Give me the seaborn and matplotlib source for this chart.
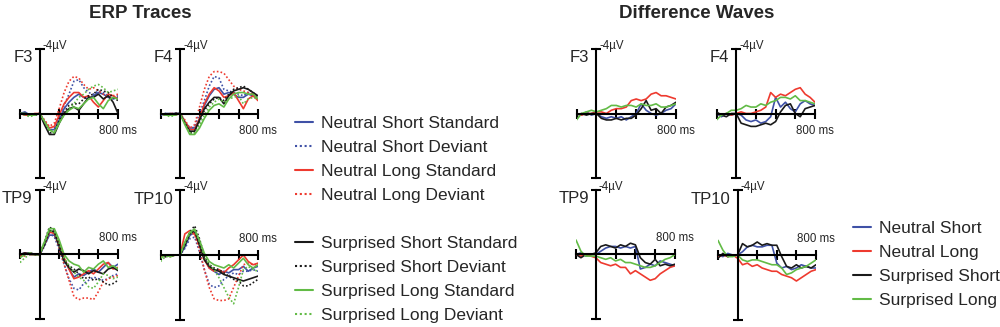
import numpy as np
import pandas as pd
import seaborn as sns
import matplotlib.pyplot as plt
from matplotlib.lines import Line2D

# time axis (ms) and amplitudes (µV, negative plotted up)
times = [-200, -150, -100, -50, 0, 50, 100, 150, 200, 250, 300,
         350, 400, 450, 500, 550, 600, 650, 700, 750, 800]

erp_labels = ['Neutral Short Standard', 'Neutral Short Deviant',
              'Neutral Long Standard', 'Neutral Long Deviant',
              'Surprised Short Standard', 'Surprised Short Deviant',
              'Surprised Long Standard', 'Surprised Long Deviant']
diff_labels = ['Neutral Short', 'Neutral Long', 'Surprised Short', 'Surprised Long']

# one row per condition, same order as erp_labels
erp_f3 = [
    [0.0, -0.1, 0.1, 0.1, 0.0, 0.5, 1.0, 1.0, 0.4, -0.3, -0.7, -1.0, -1.2, -1.0, -0.9, -1.1, -1.3, -1.2, -1.0, -0.9, -1.0],
    [0.0, 0.0, 0.1, 0.1, 0.0, 0.6, 1.1, 0.9, 0.2, -0.5, -1.2, -2.0, -2.1, -1.6, -1.3, -1.2, -1.4, -1.3, -1.1, -1.0, -1.1],
    [0.0, 0.1, 0.1, 0.0, 0.0, 0.5, 0.9, 0.8, 0.1, -0.6, -1.0, -1.3, -1.3, -1.0, -1.1, -0.7, -0.4, -0.8, -1.2, -1.1, -0.9],
    [0.0, 0.1, 0.0, 0.1, 0.0, 0.4, 0.8, 0.6, -0.3, -1.3, -2.0, -2.3, -2.2, -1.8, -1.5, -1.6, -1.4, -1.2, -1.0, -1.1, -1.2],
    [0.0, 0.0, 0.1, 0.1, 0.0, 0.7, 1.3, 1.3, 0.6, 0.0, -0.3, -0.4, -0.2, -0.6, -1.0, -1.0, -1.2, -0.9, -1.1, -0.7, 0.0],
    [0.0, 0.0, 0.1, 0.1, 0.0, 0.6, 1.2, 1.2, 0.4, -0.1, -0.5, -0.6, -0.6, -0.9, -1.1, -1.2, -1.5, -1.4, -1.3, -1.0, -0.8],
    [0.0, 0.0, 0.1, 0.1, 0.0, 0.5, 1.0, 1.2, 0.6, 0.1, -0.2, -0.4, -0.3, -0.6, -0.9, -1.0, -0.6, -0.3, -0.8, -1.0, -0.9],
    [0.0, 0.1, 0.2, 0.1, 0.0, 0.5, 1.1, 1.1, 0.5, 0.1, -0.3, -0.6, -1.0, -1.2, -1.5, -1.7, -1.8, -1.6, -1.3, -1.4, -1.5],
]
erp_f4 = [
    [0.1, 0.0, 0.0, 0.0, 0.0, 0.5, 0.9, 0.9, 0.4, -0.5, -1.1, -1.5, -1.6, -1.2, -1.3, -1.2, -1.0, -1.0, -1.2, -1.1, -0.9],
    [0.1, 0.0, 0.1, 0.0, 0.0, 0.6, 1.0, 0.8, 0.0, -0.8, -1.7, -2.3, -2.2, -1.5, -1.4, -1.3, -1.2, -1.1, -1.3, -1.2, -1.0],
    [0.0, 0.1, 0.0, 0.1, 0.0, 0.5, 1.0, 1.0, 0.3, -0.6, -1.2, -1.6, -1.4, -1.0, -1.1, -1.3, -0.8, -0.3, -0.9, -1.1, -0.8],
    [0.0, 0.1, 0.0, 0.0, 0.0, 0.4, 0.9, 0.7, -0.4, -1.5, -2.3, -2.6, -2.6, -2.5, -2.1, -1.7, -1.5, -1.4, -1.3, -1.2, -1.1],
    [0.0, 0.1, 0.1, 0.0, 0.0, 0.6, 1.1, 1.1, 0.4, -0.3, -0.7, -1.0, -1.0, -0.6, -1.1, -1.4, -1.5, -1.6, -1.5, -1.3, -1.1],
    [0.0, 0.1, 0.1, 0.0, 0.0, 0.6, 1.2, 1.2, 0.5, -0.2, -0.6, -0.9, -1.0, -0.8, -1.2, -1.5, -1.6, -1.7, -1.5, -1.3, -1.0],
    [0.0, 0.1, 0.1, 0.1, 0.0, 0.7, 1.3, 1.3, 0.9, 0.3, -0.2, -0.5, -0.6, -0.4, -0.9, -1.2, -1.3, -1.3, -1.2, -1.2, -0.9],
    [0.0, 0.1, 0.2, 0.1, 0.0, 0.6, 1.2, 1.2, 0.7, 0.1, -0.4, -0.7, -0.9, -0.7, -0.9, -1.0, -1.1, -0.6, -0.9, -1.0, -0.9],
]
erp_tp9 = [
    [0.0, -0.1, -0.1, 0.0, 0.0, -0.6, -1.2, -1.2, -0.6, 0.3, 0.9, 1.4, 1.2, 1.3, 1.1, 0.9, 1.1, 0.8, 0.5, 0.8, 0.6],
    [0.0, 0.0, -0.1, 0.0, 0.0, -0.5, -1.3, -1.1, -0.3, 0.6, 1.5, 2.1, 2.2, 1.8, 1.6, 1.4, 1.5, 1.6, 1.5, 1.3, 1.2],
    [0.1, -0.1, 0.0, 0.0, 0.0, -0.7, -1.4, -1.3, -0.7, 0.2, 0.9, 1.5, 1.4, 1.2, 1.0, 1.2, 0.9, 0.6, 0.5, 0.9, 0.8],
    [0.0, 0.1, -0.1, 0.0, 0.0, -0.6, -1.4, -1.3, -0.4, 0.6, 1.6, 2.6, 2.8, 2.7, 2.7, 2.8, 2.3, 1.7, 1.5, 1.4, 1.3],
    [0.0, -0.1, 0.0, 0.0, 0.0, -0.6, -1.5, -1.4, -0.5, 0.4, 0.8, 1.1, 0.9, 1.0, 1.2, 1.0, 1.1, 1.2, 0.9, 0.8, 1.0],
    [0.0, 0.0, -0.1, 0.0, 0.0, -0.8, -1.7, -1.5, -0.6, 0.3, 0.7, 0.9, 1.2, 1.5, 1.4, 1.6, 1.5, 1.7, 1.9, 1.8, 1.6],
    [0.2, 0.0, -0.1, 0.0, 0.0, -0.8, -1.6, -1.6, -0.9, 0.0, 0.4, 0.6, 0.7, 1.1, 0.8, 0.9, 0.6, 0.4, 0.8, 0.7, 0.9],
    [0.5, 0.2, 0.0, 0.0, 0.0, -0.7, -1.5, -1.4, -0.7, 0.2, 0.7, 1.1, 1.4, 1.6, 2.0, 2.1, 1.7, 1.2, 1.3, 1.5, 1.4],
]
erp_tp10 = [
    [0.0, 0.1, 0.0, 0.0, 0.0, -0.5, -1.2, -1.4, -0.8, 0.2, 0.8, 1.0, 1.2, 1.0, 1.1, 0.9, 0.9, 0.7, 1.0, 0.8, 0.7],
    [0.0, 0.0, 0.1, 0.0, 0.0, -0.4, -1.0, -1.1, -0.2, 0.9, 1.8, 2.0, 1.9, 1.5, 1.3, 1.1, 1.2, 1.0, 1.0, 0.9, 1.0],
    [0.1, 0.0, 0.1, 0.0, 0.0, -1.3, -1.5, -1.3, -0.6, 0.3, 0.8, 1.0, 0.9, 1.1, 0.8, 0.6, 0.3, 0.0, 0.4, 0.6, 0.5],
    [0.0, 0.1, 0.0, 0.0, 0.0, -0.7, -1.3, -1.3, -0.3, 0.9, 2.0, 2.7, 2.8, 2.8, 2.7, 2.0, 1.3, 0.6, 0.5, 0.6, 0.6],
    [0.0, 0.1, 0.0, 0.0, 0.0, -0.6, -1.3, -1.5, -0.6, 0.3, 0.7, 0.9, 1.0, 1.2, 1.3, 1.4, 1.5, 1.6, 1.5, 1.4, 1.3],
    [0.0, 0.0, 0.1, 0.0, 0.0, -0.7, -1.4, -1.8, -1.0, 0.1, 0.6, 0.8, 0.9, 1.1, 1.3, 1.5, 1.6, 1.9, 1.9, 1.7, 1.5],
    [0.2, 0.0, 0.1, 0.0, 0.0, -0.8, -1.4, -1.6, -0.9, -0.1, 0.4, 0.6, 0.7, 0.8, 0.6, 0.8, 0.5, 0.2, 0.6, 0.8, 0.6],
    [0.4, 0.1, 0.1, 0.0, 0.0, -0.7, -1.3, -1.5, -0.8, 0.1, 0.6, 0.9, 1.4, 2.0, 2.6, 3.0, 2.0, 0.9, 0.7, 0.9, 1.0],
]

# difference waves, same order as diff_labels
diff_f3 = [
    [0.0, 0.1, -0.1, 0.1, 0.0, 0.2, 0.3, 0.2, 0.3, 0.2, 0.4, 0.2, 0.0, -0.6, -0.2, 0.0, 0.1, 0.0, -0.2, -0.3, -0.6],
    [0.0, 0.1, 0.0, 0.0, -0.1, -0.1, 0.0, -0.2, -0.3, -0.3, -0.4, -0.8, -0.9, -0.8, -0.9, -1.2, -1.3, -1.1, -1.1, -1.0, -0.9],
    [0.1, 0.0, 0.1, 0.0, 0.0, 0.3, 0.4, 0.4, 0.3, 0.4, 0.3, 0.3, 0.1, -0.3, -0.8, -0.2, -0.3, 0.0, -0.4, -0.5, -0.7],
    [0.4, 0.0, -0.1, -0.2, -0.1, -0.2, -0.3, -0.5, -0.5, -0.4, -0.5, -0.5, -0.4, -0.6, -0.5, -0.5, -0.6, -0.4, -0.4, -0.5, -0.6],
]
diff_f4 = [
    [0.0, 0.2, 0.0, 0.1, 0.0, 0.1, 0.4, 0.5, 0.4, 0.6, 0.5, 0.2, -1.0, -0.4, -0.7, -0.3, -0.1, -0.6, -0.8, -0.6, -0.5],
    [0.0, 0.1, 0.0, 0.1, 0.0, -0.1, 0.0, 0.0, -0.1, -0.2, -0.4, -1.3, -1.0, -1.2, -1.1, -1.3, -1.5, -1.6, -1.2, -1.0, -0.7],
    [-0.1, 0.1, 0.2, 0.0, 0.0, 0.6, 0.7, 0.8, 0.8, 0.7, 0.6, 0.7, 0.5, -0.1, -0.5, -0.6, 0.0, 0.2, -0.3, -0.4, -0.5],
    [0.4, 0.1, 0.0, -0.2, -0.2, -0.3, -0.5, -0.4, -0.4, -0.6, -0.5, -0.7, -0.8, -1.0, -1.0, -0.9, -1.1, -0.8, -0.8, -0.7, -0.6],
]
diff_tp9 = [
    [0.0, -0.1, 0.1, 0.0, 0.0, -0.2, -0.4, -0.5, -0.5, -0.4, -0.5, -0.4, -0.5, 0.9, 0.8, 0.6, 0.7, 0.4, 0.5, 0.6, 0.7],
    [0.0, 0.1, 0.0, 0.1, 0.2, 0.5, 0.6, 0.7, 0.6, 0.8, 0.8, 1.2, 1.0, 1.2, 1.4, 1.6, 1.5, 1.2, 1.0, 0.8, 0.7],
    [0.0, 0.2, 0.0, 0.0, -0.1, -0.5, -0.6, -0.5, -0.4, -0.6, -0.5, -0.7, -0.6, 0.2, 0.5, 0.6, 0.3, 0.7, 0.6, 0.7, 0.6],
    [-0.9, -0.2, 0.1, 0.1, 0.1, 0.2, 0.3, 0.2, 0.4, 0.3, 0.5, 0.5, 0.6, 0.7, 0.8, 0.8, 0.7, 0.5, 0.3, 0.2, 0.0],
]
diff_tp10 = [
    [0.0, 0.1, -0.1, 0.0, 0.0, -0.2, -0.5, -0.6, -0.5, -0.5, -0.6, -0.6, 0.5, 0.8, 0.7, 0.9, 0.8, 0.6, 0.7, 0.8, 0.8],
    [0.1, 0.0, 0.1, 0.0, 0.2, 0.6, 0.5, 0.7, 0.6, 0.8, 0.9, 1.0, 1.0, 1.2, 1.3, 1.4, 1.6, 1.4, 1.2, 1.0, 0.9],
    [0.2, -0.1, 0.1, 0.0, 0.0, -0.7, -0.5, -0.6, -0.8, -0.6, -0.7, -0.6, -0.6, 0.1, 0.7, 0.8, 0.6, 0.8, 0.7, 0.8, 0.6],
    [-0.9, -0.3, 0.1, 0.1, 0.0, 0.3, 0.4, 0.3, 0.3, 0.4, 0.5, 0.6, 0.6, 0.8, 1.2, 1.1, 0.9, 0.8, 0.7, 0.5, 0.3],
]

blue, red, black, green = '#3f51a6', '#ee3a2f', '#1a1a1a', '#62bb46'
erp_colors = [blue, blue, red, red, black, black, green, green]
erp_dash = ['', (1, 1.3)] * 4
diff_colors = [blue, red, black, green]

W, H = 1000, 327
sns.set_theme(style='white')
plt.rcParams['font.family'] = ['Liberation Sans', 'DejaVu Sans']
fig = plt.figure(figsize=(W / 100, H / 100), dpi=100)


def long_form(traces, labels):
    rows = []
    for lab, vals in zip(labels, traces):
        for t, v in zip(times, vals):
            rows.append({'time': t, 'amp': v, 'cond': lab})
    return pd.DataFrame(rows)


def panel(box, traces, labels, colors, dashes, name, ms_above=False):
    x0, y0, x1, y1 = box
    ax = fig.add_axes([x0 / W, 1 - y1 / H, (x1 - x0) / W, (y1 - y0) / H])
    df = long_form(traces, labels)
    sns.lineplot(data=df, x='time', y='amp', hue='cond', style='cond',
                 hue_order=labels, style_order=labels,
                 palette=dict(zip(labels, colors)), dashes=dict(zip(labels, dashes)),
                 lw=1.2, errorbar=None, legend=False, ax=ax)
    ax.set_xlim(-200, 800)
    ax.set_ylim(4, -4)
    ax.patch.set_alpha(0)
    for s in ['top', 'right']:
        ax.spines[s].set_visible(False)
    for s in ['left', 'bottom']:
        ax.spines[s].set_position(('data', 0))
        ax.spines[s].set_linewidth(1.5)
        ax.spines[s].set_color('black')
    ax.set_xticks([-200, 200, 400, 600, 800])
    ax.set_yticks([-4, 4])
    ax.tick_params(direction='inout', length=7, width=1.5, color='black',
                   labelbottom=False, labelleft=False, bottom=True, left=True)
    ax.set_xlabel('')
    ax.set_ylabel('')
    ax.annotate(name, xy=(0, -4), xytext=(-7, -9), textcoords='offset pixels',
                ha='right', va='center', fontsize=12)
    ax.annotate('-4µV', xy=(0, -4), xytext=(3, 3), textcoords='offset pixels',
                ha='left', va='center', fontsize=8.3)
    ax.annotate('800 ms', xy=(800, 0), xytext=(0, 16 if ms_above else -17),
                textcoords='offset pixels', ha='center', va='center', fontsize=8.3)
    return ax


panel((20, 49, 118, 178), erp_f3, erp_labels, erp_colors, erp_dash, 'F3')
panel((160.5, 49, 258, 178), erp_f4, erp_labels, erp_colors, erp_dash, 'F4')
panel((20, 190, 118, 319), erp_tp9, erp_labels, erp_colors, erp_dash, 'TP9', True)
panel((160.5, 190, 258, 320), erp_tp10, erp_labels, erp_colors, erp_dash, 'TP10', True)
panel((576.5, 49, 676, 178), diff_f3, diff_labels, diff_colors, [''] * 4, 'F3')
panel((716.5, 49, 815, 178), diff_f4, diff_labels, diff_colors, [''] * 4, 'F4')
panel((576, 190, 675, 319), diff_tp9, diff_labels, diff_colors, [''] * 4, 'TP9', True)
panel((718, 190, 816, 320), diff_tp10, diff_labels, diff_colors, [''] * 4, 'TP10', True)

fig.text(140 / W, 1 - 14 / H, 'ERP Traces', ha='center', va='center',
         fontsize=13.5, fontweight='bold')
fig.text(697 / W, 1 - 14 / H, 'Difference Waves', ha='center', va='center',
         fontsize=13.5, fontweight='bold')


def handles(labels, colors, dashes):
    out = []
    for lab, c, d in zip(labels, colors, dashes):
        ls = '-' if d == '' else (0, d)
        out.append(Line2D([], [], color=c, lw=1.5, linestyle=ls))
    return out


leg_kw = dict(loc='upper left', frameon=False, fontsize=12.5, handlelength=1.05,
              handletextpad=0.45, labelspacing=0.5, borderpad=0, borderaxespad=0)
h_erp = handles(erp_labels, erp_colors, erp_dash)
fig.legend(h_erp[:4], erp_labels[:4], bbox_to_anchor=(295 / W, 1 - 116 / H), **leg_kw)
fig.legend(h_erp[4:], erp_labels[4:], bbox_to_anchor=(295 / W, 1 - 236 / H), **leg_kw)
fig.legend(handles(diff_labels, diff_colors, [''] * 4), diff_labels,
           bbox_to_anchor=(852.5 / W, 1 - 221 / H), **leg_kw)

plt.savefig('out.png', dpi=100)
